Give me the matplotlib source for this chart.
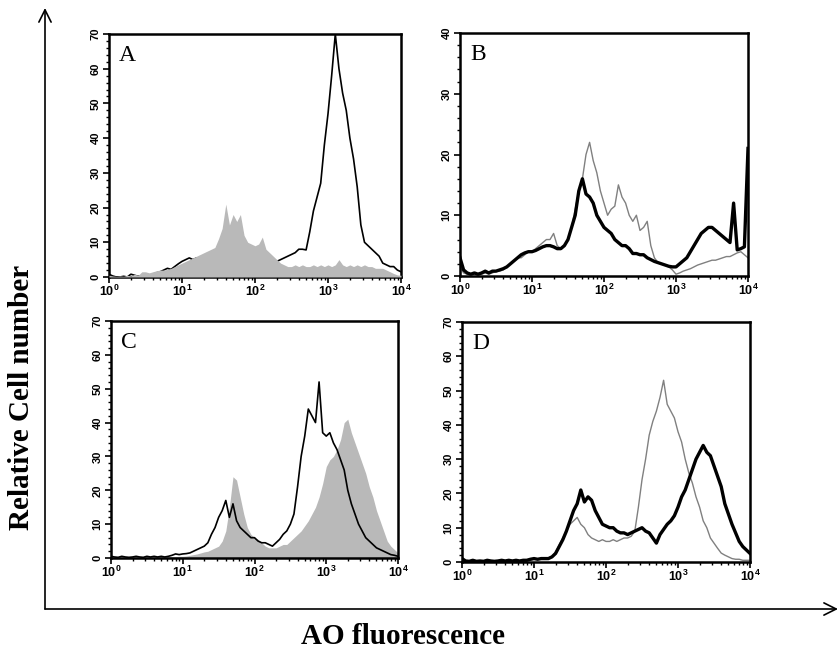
import numpy as np
import matplotlib
matplotlib.use("Agg")
import matplotlib.pyplot as plt
from matplotlib.ticker import MultipleLocator, LogLocator, NullFormatter

plt.rcParams["font.family"] = ["Liberation Sans", "DejaVu Sans"]
plt.rcParams["mathtext.fontset"] = "custom"
plt.rcParams["mathtext.rm"] = "Liberation Sans"
plt.rcParams["mathtext.bf"] = "Liberation Sans:bold"

# --- Data: counts per channel, channels every 0.05 decade from 10^0 to 10^4 ---

STEP_DECADE = 0.05

a_black = [0.8, 0.3, 0.0, 0.0, 0.2, 0.0, 0.8, 0.5, 0.2, 0.3,
           0.5, 0.3, 0.8, 1.2, 1.5, 2.0, 2.5, 2.2, 3.0, 3.8,
           4.5, 5.0, 5.5, 5.0, 5.5, 5.5, 6.0, 6.0, 6.0, 6.0,
           6.5, 6.5, 6.5, 6.5, 6.5, 6.5, 6.5, 6.0, 6.0, 6.0,
           5.5, 5.5, 5.0, 5.0, 5.0, 4.5, 4.5, 5.0, 5.5, 6.0,
           6.5, 7.0, 8.0, 8.0, 7.8, 13.0, 19.0, 23.0, 27.0, 38.0,
           47.0, 58.0, 70.0, 60.0, 53.0, 48.0, 40.0, 34.0, 26.0, 15.0,
           10.0, 9.0, 8.0, 7.0, 6.0, 4.0, 3.5, 3.0, 3.0, 2.0,
           1.5]
a_gray = [0.5, 0.3, 0.2, 0.3, 0.2, 0.5, 0.3, 0.8, 0.5, 1.5,
          1.5, 1.2, 1.5, 1.8, 2.0, 2.0, 2.2, 2.5, 3.0, 3.5,
          4.0, 4.5, 5.0, 5.5, 6.0, 6.5, 7.0, 7.5, 8.0, 8.5,
          11.0, 14.0, 21.0, 15.0, 18.0, 16.0, 18.0, 12.0, 10.0, 9.5,
          9.0, 9.5, 11.5, 8.0, 7.0, 6.0, 5.0, 4.0, 3.5, 3.0,
          3.0, 3.5, 3.0, 3.5, 3.0, 3.0, 3.5, 3.0, 3.5, 3.0,
          3.5, 3.0, 3.5, 5.0, 3.5, 3.0, 3.5, 3.0, 3.5, 3.0,
          3.5, 3.0, 3.0, 2.5, 2.5, 2.5, 2.0, 1.5, 1.0, 0.6,
          0.5]

b_black = [3.0, 1.0, 0.5, 0.3, 0.5, 0.3, 0.5, 0.8, 0.5, 0.8,
           0.8, 1.0, 1.2, 1.5, 2.0, 2.5, 3.0, 3.5, 3.8, 4.0,
           4.0, 4.2, 4.5, 4.8, 5.0, 5.0, 4.8, 4.5, 4.5, 5.0,
           6.0, 8.0, 10.0, 14.0, 16.0, 13.5, 13.0, 12.0, 10.0, 9.0,
           8.0, 7.5, 7.0, 6.0, 5.5, 5.0, 5.0, 4.5, 3.7, 3.7,
           3.5, 3.5, 3.0, 2.7, 2.4, 2.2, 2.0, 1.8, 1.6, 1.5,
           1.5, 2.0, 2.5, 3.0, 4.0, 5.0, 6.0, 7.0, 7.5, 8.0,
           8.0, 7.5, 7.0, 6.5, 6.0, 5.5, 12.0, 4.3, 4.5, 4.8,
           21.0]
b_gray = [1.5, 0.5, 0.3, 0.2, 0.3, 0.2, 0.3, 0.5, 0.3, 0.5,
          0.8, 0.8, 1.0, 1.5, 2.0, 2.5, 3.0, 3.0, 3.5, 4.0,
          4.0, 4.5, 5.0, 5.5, 6.0, 6.0, 7.0, 5.0, 4.5, 5.0,
          6.0, 8.0, 11.0, 14.0, 16.0, 20.0, 22.0, 19.0, 17.0, 14.0,
          12.0, 10.0, 11.0, 11.5, 15.0, 13.0, 12.0, 10.0, 9.0, 10.0,
          7.5, 8.0, 9.0, 5.0, 3.0, 2.2, 2.0, 1.8, 1.5, 1.0,
          0.3, 0.5, 0.8, 1.0, 1.2, 1.5, 1.8, 2.0, 2.2, 2.4,
          2.6, 2.6, 2.8, 3.0, 3.2, 3.2, 3.5, 3.8, 4.0, 3.5,
          3.0]

c_black = [0.5, 0.3, 0.2, 0.5, 0.3, 0.2, 0.3, 0.5, 0.3, 0.2,
           0.5, 0.3, 0.5, 0.3, 0.5, 0.3, 0.5, 0.8, 1.2, 1.0,
           1.2, 1.3, 1.5, 2.0, 2.5, 3.0, 3.5, 4.5, 7.0, 9.0,
           12.0, 14.0, 17.0, 12.0, 16.0, 11.0, 9.0, 8.0, 7.0, 6.0,
           6.0, 5.0, 4.5, 4.5, 4.0, 3.5, 4.5, 5.5, 7.0, 8.0,
           10.0, 13.0, 21.0, 30.0, 36.0, 44.0, 42.0, 40.0, 52.0, 37.0,
           36.0, 37.0, 34.0, 32.0, 29.0, 26.0, 20.0, 16.0, 13.0, 10.0,
           8.0, 6.0, 5.0, 4.0, 3.0, 2.5, 2.0, 1.5, 1.0, 0.8,
           0.5]
c_gray = [0.3, 0.2, 0.3, 0.2, 0.3, 0.2, 0.3, 0.3, 0.2, 0.3,
          0.3, 0.2, 0.3, 0.3, 0.4, 0.3, 0.4, 0.4, 0.4, 0.5,
          0.5, 0.6, 0.8, 1.0, 1.2, 1.5, 1.8, 2.0, 2.5, 3.0,
          3.5, 5.0, 8.0, 15.0, 24.0, 23.0, 18.0, 13.0, 9.0, 7.0,
          6.0, 5.5, 4.5, 3.5, 3.0, 3.0, 3.0, 3.5, 4.0, 4.0,
          5.0, 6.0, 7.0, 8.0, 9.5, 11.0, 13.0, 15.0, 18.0, 22.0,
          27.0, 29.0, 30.0, 32.0, 35.0, 40.0, 41.0, 37.0, 34.0, 31.0,
          28.0, 25.0, 21.0, 18.0, 14.0, 11.0, 8.0, 5.0, 3.5, 2.5,
          1.5]

d_black = [1.0, 0.3, 0.2, 0.5, 0.2, 0.3, 0.2, 0.5, 0.3, 0.2,
           0.3, 0.5, 0.3, 0.5, 0.3, 0.5, 0.3, 0.5, 0.5, 0.8,
           1.0, 0.8, 1.0, 1.0, 1.0, 1.5, 2.5, 4.5, 6.5, 9.0,
           12.0, 15.0, 17.0, 21.0, 17.5, 19.0, 18.0, 15.0, 13.0, 11.0,
           10.5, 10.0, 10.0, 9.0, 8.5, 8.5, 8.0, 8.5, 9.0, 9.5,
           10.0, 9.0, 8.5, 7.0, 5.5, 8.0, 9.5, 11.0, 12.0, 13.5,
           16.0, 19.0, 21.0, 24.0, 27.0, 30.0, 32.0, 34.0, 32.0, 31.0,
           28.0, 25.0, 22.0, 17.0, 14.0, 11.0, 8.5, 6.0, 4.5, 3.5,
           2.5]
d_gray = [0.5, 0.2, 0.2, 0.3, 0.2, 0.3, 0.2, 0.4, 0.3, 0.2,
          0.3, 0.4, 0.3, 0.4, 0.3, 0.4, 0.3, 0.4, 0.5, 0.6,
          0.8, 0.8, 1.0, 1.0, 1.2, 1.5, 3.0, 5.0, 7.0, 9.0,
          11.0, 12.0, 13.0, 11.0, 10.0, 8.0, 7.0, 6.5, 6.0, 6.5,
          6.0, 6.0, 6.5, 6.0, 6.5, 7.0, 7.0, 7.5, 9.0, 16.0,
          24.0, 30.0, 37.0, 41.0, 44.0, 48.0, 53.0, 46.0, 44.0, 42.0,
          38.0, 35.0, 30.0, 26.0, 23.0, 19.0, 16.0, 12.0, 10.0, 7.0,
          5.5, 4.0, 2.6, 2.0, 1.5, 1.0, 0.8, 0.8, 0.5, 0.5,
          0.5]

PANEL_LABELS = ["A", "B", "C", "D"]
Y_MAX = [70, 40, 70, 70]
X_TICK_LABELS = [r"$\mathbf{10^{%d}}$" % k for k in range(5)]

GRAY_FILL = "#b9b9b9"
GRAY_LINE = "#808080"


def channels_for(values):
    return 10 ** (np.arange(len(values)) * STEP_DECADE)


def style_axes(ax, ymax, letter):
    ax.set_xscale("log")
    ax.set_xlim(1, 1e4)
    ax.set_ylim(0, ymax)
    ax.set_xticks([10 ** k for k in range(5)], X_TICK_LABELS)
    ax.xaxis.set_minor_locator(LogLocator(base=10, subs=np.arange(2, 10)))
    ax.xaxis.set_minor_formatter(NullFormatter())
    ax.yaxis.set_major_locator(MultipleLocator(10))
    ax.yaxis.set_minor_locator(MultipleLocator(2))
    ax.tick_params(axis="x", which="major", direction="out", length=4,
                   width=1.2, labelsize=9, pad=1)
    ax.tick_params(axis="y", which="major", direction="out", length=4,
                   width=1.2, labelsize=8, pad=2)
    ax.tick_params(axis="both", which="minor", direction="out", length=2.5, width=1)
    ax.tick_params(top=False, right=False, which="both")
    for lab in ax.get_yticklabels():
        lab.set_rotation(90)
        lab.set_va("center")
        lab.set_fontweight("bold")
    for sp in ax.spines.values():
        sp.set_linewidth(1.8)
    ax.text(0.035, 0.955, letter, transform=ax.transAxes, ha="left", va="top",
            fontsize=17, family=["Liberation Serif", "DejaVu Serif"])


W, H = 840, 653
fig = plt.figure(figsize=(W / 100, H / 100), dpi=100)


def px_axes(left, top, right, bottom):
    return fig.add_axes([left / W, 1 - bottom / H, (right - left) / W, (bottom - top) / H])


ax_a = px_axes(109, 34, 401, 277)
ax_b = px_axes(460, 33, 748, 276)
ax_c = px_axes(111, 321, 398, 558)
ax_d = px_axes(462, 322, 750, 562)

# A: black line partly hidden under the gray filled histogram
ax_a.plot(channels_for(a_black), a_black, color="black", linewidth=1.2, zorder=2)
ax_a.fill_between(channels_for(a_gray), a_gray, color=GRAY_FILL, linewidth=0, zorder=3)

# B: thin gray line and thick black line
ax_b.plot(channels_for(b_gray), b_gray, color=GRAY_LINE, linewidth=1.0, zorder=2)
ax_b.plot(channels_for(b_black), b_black, color="black", linewidth=2.4, zorder=3)

# C: gray fill with black line on top
ax_c.fill_between(channels_for(c_gray), c_gray, color=GRAY_FILL, linewidth=0, zorder=2)
ax_c.plot(channels_for(c_black), c_black, color="black", linewidth=1.2, zorder=3)

# D: thin gray line and thick black line
ax_d.plot(channels_for(d_gray), d_gray, color=GRAY_LINE, linewidth=1.0, zorder=2)
ax_d.plot(channels_for(d_black), d_black, color="black", linewidth=2.4, zorder=3)

for ax, ymax, letter in zip([ax_a, ax_b, ax_c, ax_d], Y_MAX, PANEL_LABELS):
    style_axes(ax, ymax, letter)

# Outer arrows and axis titles
over = fig.add_axes([0, 0, 1, 1], zorder=-1)
over.set_xlim(0, W)
over.set_ylim(H, 0)
over.axis("off")
arrow = dict(arrowstyle="->", color="black", lw=1.2, mutation_scale=22, shrinkA=0, shrinkB=0)
over.annotate("", xy=(45, 8), xytext=(45, 609), arrowprops=arrow)
over.annotate("", xy=(838, 609), xytext=(45, 609), arrowprops=arrow)

serif = ["Liberation Serif", "DejaVu Serif"]
fig.text(22 / W, 1 - 397 / H, "Relative Cell number", rotation=90, ha="center",
         va="center", fontsize=21, fontweight="bold", family=serif)
fig.text(403 / W, 1 - 636 / H, "AO fluorescence", ha="center", va="center",
         fontsize=21, fontweight="bold", family=serif)

fig.savefig("out.png", dpi=100)
